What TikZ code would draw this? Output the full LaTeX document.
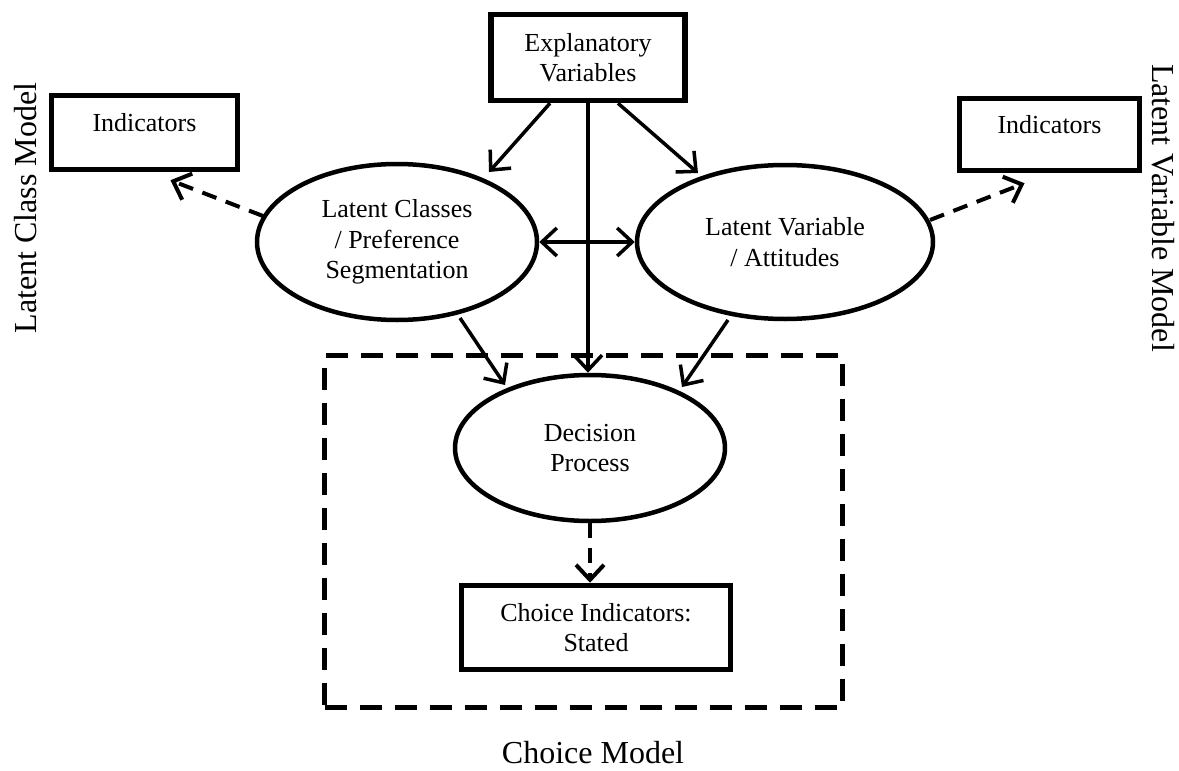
\documentclass[tikz,border=0pt]{standalone}
\usepackage{fontspec}
\setmainfont{Liberation Serif}
\usetikzlibrary{arrows.meta,calc,shapes.geometric}
\begin{document}
\begin{tikzpicture}[x=1pt,y=-1pt,
  txt/.style={font=\fontsize{26}{30.5}\selectfont, align=center},
  rbox/.style={draw, line width=5.5pt, rectangle, inner sep=0pt, txt},
  ell/.style={draw, line width=4.5pt, ellipse, inner sep=0pt, txt},
  barb/.tip={Straight Barb[length=15pt,width=28pt]},
  arr/.style={line width=3.5pt, -barb},
  darr/.style={line width=4pt, -barb, dash pattern=on 15pt off 10pt},
  lbl/.style={font=\fontsize{32}{38}\selectfont}]
\useasboundingbox (0,0) rectangle (1179,771);
% frame
\node[draw, line width=5pt, dash pattern=on 22pt off 13pt, minimum width=518pt, minimum height=352pt, inner sep=0pt] (frame) at (583.5,531.5) {};
% nodes
\node[rbox, minimum width=194pt, minimum height=86pt] (ex) at (588,57.5) {Explanatory\\Variables};
\node[rbox, minimum width=186pt, text height=35.5pt, text depth=38.5pt] (lind) at (144.5,132.5) {Indicators};
\node[rbox, minimum width=180pt, text height=34.5pt, text depth=37.5pt] (rind) at (1049.5,134.5) {Indicators};
\node[ell, minimum width=280pt, minimum height=156pt] (lc) at (397,242) {Latent Classes\\/ Preference\\Segmentation};
\node[ell, minimum width=296pt, minimum height=154pt] (rv) at (785,242) {Latent Variable\\/ Attitudes};
\node[ell, minimum width=270pt, minimum height=146pt] (dp) at (590,448) {Decision\\Process};
\node[rbox, minimum width=269pt, minimum height=84pt] (cb) at (596,627.5) {Choice Indicators:\\Stated};
% labels
\node[lbl, rotate=90] (lcm) at (26,208) {Latent Class Model};
\node[lbl, rotate=-90] (lvm) at (1163,208) {Latent Variable Model};
\node[lbl] (cml) at (593,753) {Choice Model};
% connectors
\draw[arr] ($(ex.south)+(-38,0)$) -- ($(lc.center)+(92,-70)$);
\draw[arr] ($(ex.south)+(30,0)$) -- ($(rv.center)+(-87,-69)$);
\draw[arr] (ex.south) -- (ex.south |- dp.north);
\draw[line width=3.5pt, barb-barb] (lc.east) -- (rv.west);
\draw[arr] ($(lc.center)+(63,76)$) -- ($(dp.center)+(-85,-63)$);
\draw[arr] ($(rv.center)+(-57,78)$) -- ($(dp.center)+(92,-61)$);
\draw[darr] ($(lc.center)+(-134,-26)$) -- ($(lind.south)+(26,8)$);
\draw[darr] ($(rv.center)+(145,-22)$) -- ($(rind.south)+(-25,10)$);
\draw[darr] (dp.south) -- (dp.south |- cb.north);
\end{tikzpicture}
\end{document}
